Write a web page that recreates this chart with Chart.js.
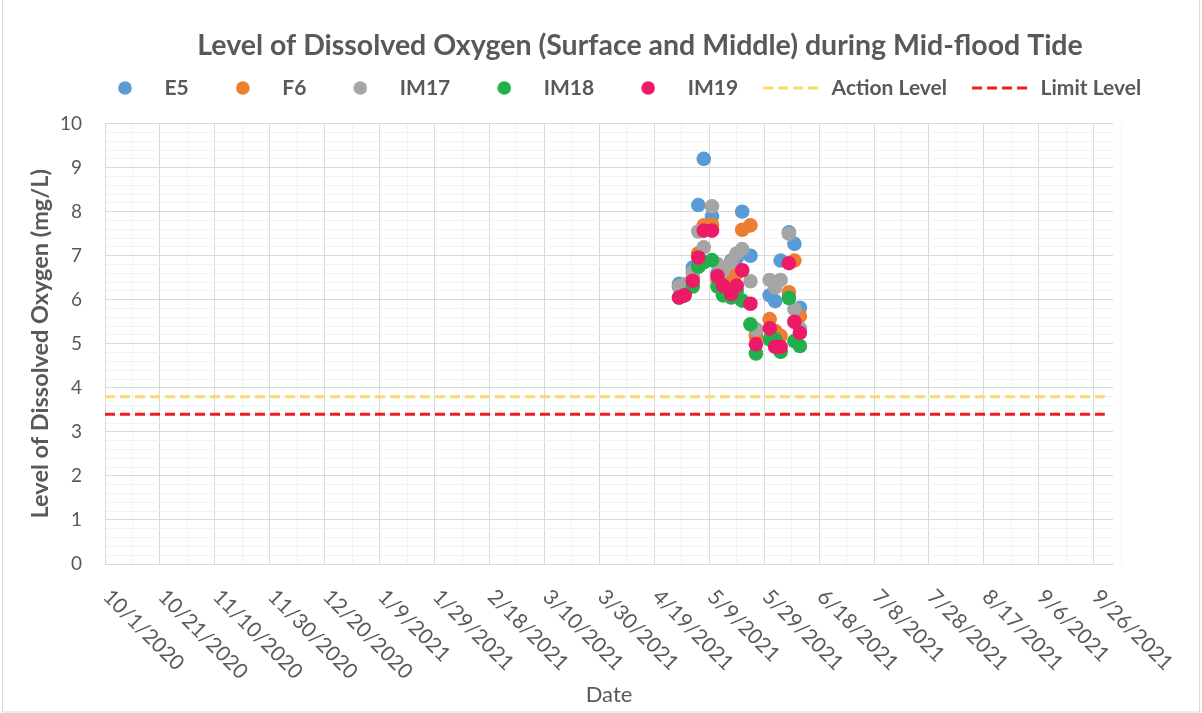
<!DOCTYPE html>
<html>
<head>
<meta charset="utf-8">
<title>Level of Dissolved Oxygen</title>
<script src="https://cdn.jsdelivr.net/npm/chart.js@4.4.1/dist/chart.umd.min.js"></script>
<style>
  html, body { margin: 0; padding: 0; background: #fff; }
</style>
</head>
<body>
<canvas id="doChart" width="1202" height="713"></canvas>
<script>
'use strict';
// sampling days and DO readings (mg/L)
let dates = ['4/28/2021', '4/30/2021', '5/3/2021', '5/5/2021', '5/7/2021', '5/10/2021', '5/12/2021', '5/14/2021', '5/17/2021', '5/19/2021',
             '5/21/2021', '5/24/2021', '5/26/2021', '5/31/2021', '6/2/2021', '6/4/2021', '6/7/2021', '6/9/2021', '6/11/2021'];
let e5 =   [6.36, 6.25, 6.73, 8.15, 9.20, 7.89, 6.60, 6.50, 6.89, 6.95, 8.00, 7.00, 5.20, 6.10, 5.97, 6.89, 7.53, 7.27, 5.82];
let f6 =   [6.30, 6.13, 6.50, 7.05, 7.69, 7.70, 6.45, 6.30, 6.50, 6.60, 7.59, 7.69, 5.18, 5.56, 5.29, 5.18, 6.17, 6.89, 5.63];
let im17 = [6.30, 6.35, 6.62, 7.55, 7.19, 8.12, 6.81, 6.65, 6.85, 7.05, 7.15, 6.42, 5.33, 6.45, 6.28, 6.45, 7.50, 5.79, 5.35];
let im18 = [6.05, 6.10, 6.30, 6.75, 6.85, 6.90, 6.30, 6.10, 6.05, 6.20, 5.98, 5.44, 4.78, 5.10, 5.10, 4.82, 6.04, 5.06, 4.95];
let im19 = [6.05, 6.10, 6.43, 6.96, 7.57, 7.57, 6.54, 6.32, 6.13, 6.32, 6.67, 5.91, 4.99, 5.35, 4.93, 4.93, 6.83, 5.50, 5.25];

let levelDates = ['10/1/2020', '9/30/2021'];
let actionLevel = [3.8, 3.8];
let limitLevel = [3.4, 3.4];

let xRange = ['10/1/2020', '10/3/2021'];
let xTickLabels = ['10/1/2020', '10/21/2020', '11/10/2020', '11/30/2020', '12/20/2020', '1/9/2021', '1/29/2021', '2/18/2021', '3/10/2021',
                   '3/30/2021', '4/19/2021', '5/9/2021', '5/29/2021', '6/18/2021', '7/8/2021', '7/28/2021', '8/17/2021', '9/6/2021', '9/26/2021'];
let yTickLabels = [0, 1, 2, 3, 4, 5, 6, 7, 8, 9, 10];

let txt = '#595959';
let font = 'Lato';

function dayOf(s) {
    let p = s.split('/');
    let b = xRange[0].split('/');
    return Math.round((Date.UTC(+p[2], p[0] - 1, +p[1]) - Date.UTC(+b[2], b[0] - 1, +b[1])) / 86400000);
}

function pts(vals, when) {
    return (when || dates).map(function (d, i) { return {x: dayOf(d), y: vals[i]}; });
}

let majorDays = xTickLabels.map(dayOf);

// little round markers for the legend (circle style would be stretched by pointStyleWidth)
function dot(color) {
    let c = document.createElement('canvas');
    c.width = 14;
    c.height = 14;
    let g = c.getContext('2d');
    g.fillStyle = color;
    g.beginPath();
    g.arc(7, 7, 6.8, 0, Math.PI * 2);
    g.fill();
    return c;
}

function scatterSet(label, vals, color, order) {
    return {
        label: label,
        data: pts(vals),
        backgroundColor: color,
        borderColor: color,
        pointRadius: 7.3,
        pointBorderWidth: 0,
        order: order
    };
}

function levelSet(label, vals, color) {
    return {
        type: 'line',
        label: label,
        data: pts(vals, levelDates),
        borderColor: color,
        backgroundColor: color,
        borderWidth: 3,
        borderDash: [10, 5],
        pointRadius: 0,
        showLine: true,
        fill: false,
        order: 0
    };
}

let extras = {
    id: 'extras',
    afterLayout: function (chart) {
        // title centred a bit right of the canvas middle, like the original
        let t = chart.titleBlock;
        let dx = 640 - (t.left + t.right) / 2;
        t.left += dx;
        t.right += dx;
        // legend row starts at x=96, centred on y=88
        let l = chart.legend;
        let lo = l.options.labels;
        let start = (l.left + lo.padding + l.right - l.lineWidths[0]) / 2;
        let lx = 96 - start;
        l.left += lx;
        l.right += lx;
        let ly = 88 - (l.top + lo.padding + lo.font.size / 2);
        l.top += ly;
        l.bottom += ly;
    },
    beforeDraw: function (chart) {
        let ctx = chart.ctx;
        ctx.save();
        ctx.strokeStyle = '#d9d9d9';
        ctx.lineWidth = 1;
        ctx.strokeRect(2.5, -2, 1197, 714);
        ctx.restore();
    },
    afterDraw: function (chart) {
        let ctx = chart.ctx;
        let xs = chart.scales.x;
        ctx.save();
        ctx.font = '21px ' + font;
        ctx.fillStyle = txt;
        ctx.textAlign = 'left';
        ctx.textBaseline = 'alphabetic';
        xTickLabels.forEach(function (lab) {
            let px = xs.getPixelForValue(dayOf(lab));
            ctx.save();
            ctx.translate(px - 3, 598);
            ctx.rotate(Math.PI / 4);
            ctx.fillText(lab, 0, 0);
            ctx.restore();
        });
        ctx.restore();
    }
};

let ctx = document.getElementById('doChart').getContext('2d');
let chart = new Chart(ctx, {
    type: 'scatter',
    data: {
        datasets: [
            scatterSet('E5', e5, '#5B9BD5', 5),
            scatterSet('F6', f6, '#ED7D31', 4),
            scatterSet('IM17', im17, '#A5A5A5', 3),
            scatterSet('IM18', im18, '#21B04B', 2),
            scatterSet('IM19', im19, '#EC1A67', 1),
            levelSet('Action Level', actionLevel, '#FFD966'),
            levelSet('Limit Level', limitLevel, '#ED1C24')
        ]
    },
    options: {
        responsive: false,
        animation: false,
        events: [],
        layout: { padding: { left: 0, right: 89, top: 0, bottom: 0 } },
        plugins: {
            tooltip: { enabled: false },
            title: {
                display: true,
                text: 'Level of Dissolved Oxygen (Surface and Middle) during Mid-flood Tide',
                color: txt,
                font: { family: font, size: 28.5, weight: 'bold' },
                padding: { top: 29, bottom: 4.4 }
            },
            legend: {
                position: 'top',
                labels: {
                    usePointStyle: true,
                    pointStyleWidth: 58,
                    boxHeight: 10,
                    padding: 25,
                    color: txt,
                    font: { family: font, size: 21, weight: 'bold' },
                    sort: function (a, b) { return a.datasetIndex - b.datasetIndex; },
                    generateLabels: function (chart) {
                        let items = Chart.defaults.plugins.legend.labels.generateLabels(chart);
                        items.forEach(function (item) {
                            let ds = chart.data.datasets[item.datasetIndex];
                            if (ds.type === 'line') {
                                item.pointStyle = 'line';
                                item.lineDash = ds.borderDash;
                                item.lineWidth = 3;
                                item.strokeStyle = ds.borderColor;
                            } else {
                                item.pointStyle = dot(ds.backgroundColor);
                                item.lineWidth = 0;
                            }
                        });
                        return items;
                    }
                }
            }
        },
        scales: {
            x: {
                type: 'linear',
                min: dayOf(xRange[0]),
                max: dayOf(xRange[1]),
                afterBuildTicks: function (scale) {
                    let t = [];
                    majorDays.forEach(function (d) {
                        t.push({value: d});
                        t.push({value: d + 10});
                    });
                    scale.ticks = t;
                },
                afterFit: function (scale) { scale.height = 149; },
                border: { color: '#d9d9d9' },
                grid: {
                    drawTicks: false,
                    color: function (c) { return majorDays.indexOf(c.tick.value) >= 0 ? '#d9d9d9' : '#f2f2f2'; }
                },
                ticks: { display: false },
                title: {
                    display: true,
                    text: 'Date',
                    color: txt,
                    font: { family: font, size: 22 },
                    padding: { top: 0, bottom: 5 }
                }
            },
            y: {
                min: 0,
                max: 10,
                afterBuildTicks: function (scale) {
                    let t = [];
                    yTickLabels.forEach(function (v, i) {
                        if (i < yTickLabels.length - 1) {
                            for (let k = 0; k < 5; k++) t.push({value: Math.round((v + k * 0.2) * 10) / 10});
                        } else {
                            t.push({value: v});
                        }
                    });
                    scale.ticks = t;
                },
                afterFit: function (scale) { scale.width = 105; },
                border: { color: '#d9d9d9' },
                grid: {
                    drawTicks: false,
                    color: function (c) { return yTickLabels.indexOf(c.tick.value) >= 0 ? '#d9d9d9' : '#f2f2f2'; }
                },
                ticks: {
                    autoSkip: false,
                    padding: 23,
                    color: txt,
                    font: { family: font, size: 19 },
                    callback: function (v) { return yTickLabels.indexOf(v) >= 0 ? String(v) : ''; }
                },
                title: {
                    display: true,
                    text: 'Level of Dissolved Oxygen (mg/L)',
                    color: txt,
                    font: { family: font, size: 23.5, weight: 'bold' },
                    padding: { top: 26, bottom: 0 }
                }
            }
        }
    },
    plugins: [extras]
});
</script>
</body>
</html>
